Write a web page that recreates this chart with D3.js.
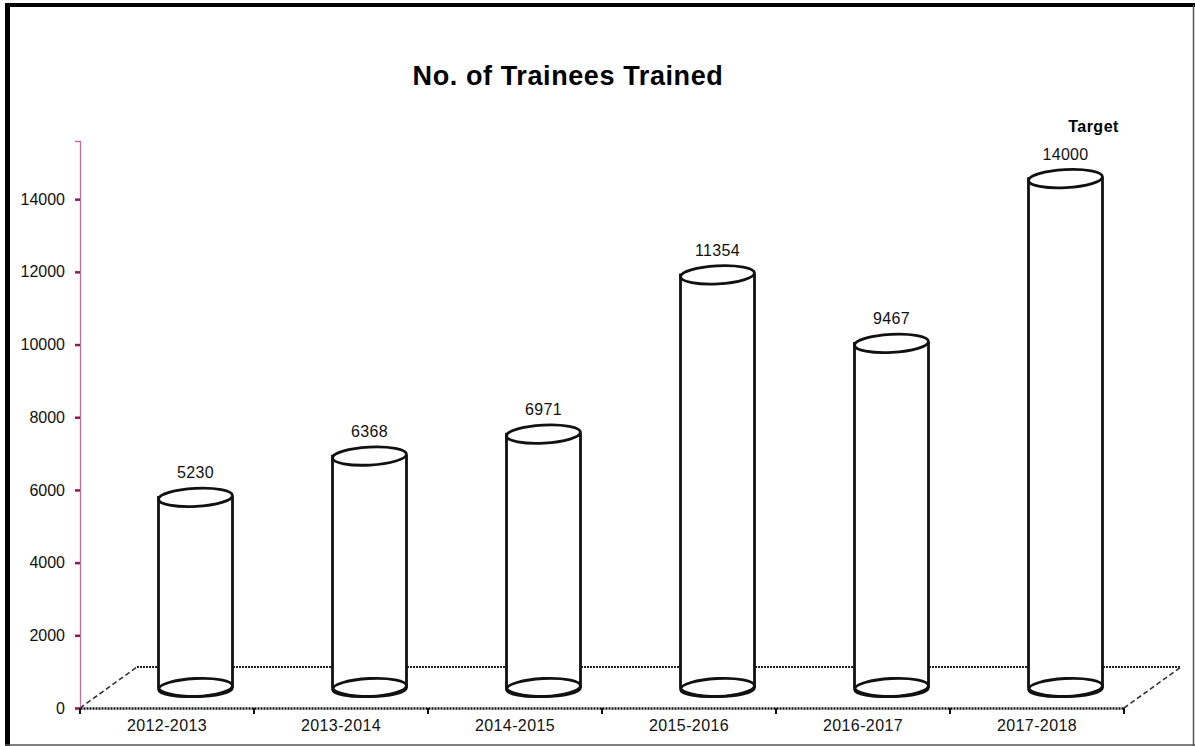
<!DOCTYPE html>
<html>
<head>
<meta charset="utf-8">
<script src="https://cdn.jsdelivr.net/npm/d3@7"></script>
<style>
  body { margin: 0; background: #fff; }
  svg { display: block; font-family: "Liberation Sans", Arial, sans-serif; }
</style>
</head>
<body>
<div id="chart"></div>
<script>
// Data.
var years = ["2012-2013", "2013-2014", "2014-2015", "2015-2016", "2016-2017", "2017-2018"];
var trainees = [5230, 6368, 6971, 11354, 9467, 14000];
var yTicks = [0, 2000, 4000, 6000, 8000, 10000, 12000, 14000];

var width = 1195;
var height = 746;

// 3D floor depth offsets (back edge vs front edge).
var depthX = 57, depthY = -41;
var rx = 37, ry = 9;

var svg = d3.select("#chart")
    .append("svg")
    .attr("width", width)
    .attr("height", height);

// Frame: thick left/top, thin right/bottom.
svg.append("rect").attr("x", 0).attr("y", 0).attr("width", width).attr("height", height).attr("fill", "#fff");
svg.append("line").attr("x1", 7.5).attr("x2", 7.5).attr("y1", 3).attr("y2", height).attr("stroke", "#000").attr("stroke-width", 5);
svg.append("line").attr("x1", 5).attr("x2", width).attr("y1", 5).attr("y2", 5).attr("stroke", "#000").attr("stroke-width", 4);
svg.append("line").attr("x1", width - 1.5).attr("x2", width - 1.5).attr("y1", 5).attr("y2", height).attr("stroke", "#555").attr("stroke-width", 1.5);
svg.append("line").attr("x1", 5).attr("x2", width).attr("y1", height - 1).attr("y2", height - 1).attr("stroke", "#555").attr("stroke-width", 1.5);

// Scales.
var x = d3.scaleBand()
    .domain(years)
    .range([80, 1124])
    .padding(0);

var y = d3.scaleLinear()
    .domain([0, 15600])
    .range([708, 141]);

// Title.
svg.append("text")
    .attr("x", 568)
    .attr("y", 85)
    .attr("text-anchor", "middle")
    .attr("font-size", 27)
    .attr("font-weight", "bold")
    .attr("letter-spacing", 0.6)
    .text("No. of Trainees Trained");

// Floor (parallelogram).
var x0 = x.range()[0], x1 = x.range()[1], y0 = y(0);
var floor = svg.append("g").attr("class", "floor");
floor.append("line")
    .attr("x1", x0 + depthX).attr("x2", x1 + depthX)
    .attr("y1", y0 + depthY).attr("y2", y0 + depthY)
    .attr("stroke", "#222").attr("stroke-width", 2.2)
    .attr("stroke-dasharray", "2,1");
floor.append("line")
    .attr("x1", x0).attr("x2", x0 + depthX)
    .attr("y1", y0).attr("y2", y0 + depthY)
    .attr("stroke", "#333").attr("stroke-width", 1.6)
    .attr("stroke-dasharray", "5,3");
floor.append("line")
    .attr("x1", x1).attr("x2", x1 + depthX)
    .attr("y1", y0).attr("y2", y0 + depthY)
    .attr("stroke", "#333").attr("stroke-width", 1.6)
    .attr("stroke-dasharray", "5,3");

// Y axis.
var yAxis = d3.axisLeft(y)
    .tickValues(yTicks)
    .tickSize(5)
    .tickPadding(10)
    .tickFormat(d3.format("d"));

var yAxisG = svg.append("g")
    .attr("transform", "translate(80,0)")
    .call(yAxis);
yAxisG.select(".domain").attr("stroke", "#c0709a").attr("stroke-width", 1.3);
yAxisG.selectAll(".tick line").attr("stroke", "#8b1a55").attr("stroke-width", 2.5);
yAxisG.selectAll(".tick text")
    .attr("font-size", 16)
    .attr("fill", "#111")
    .style("font-family", "'Liberation Sans', Arial, sans-serif");

// X axis.
var xAxis = d3.axisBottom(x)
    .tickSize(0)
    .tickPadding(12);
var xAxisG = svg.append("g")
    .attr("transform", "translate(0," + y0 + ")")
    .call(xAxis);
xAxisG.select(".domain").attr("stroke", "#111").attr("stroke-width", 2.6).attr("stroke-dasharray", "2,1");
xAxisG.selectAll(".tick text")
    .attr("font-size", 16)
    .attr("letter-spacing", 0.4)
    .attr("fill", "#111")
    .style("font-family", "'Liberation Sans', Arial, sans-serif");
// Category boundary ticks.
var bounds = years.map(d => x(d)).concat([x1]);
xAxisG.selectAll(".bound")
    .data(bounds)
    .enter()
    .append("line")
    .attr("class", "bound")
    .attr("x1", d => d).attr("x2", d => d)
    .attr("y1", 0).attr("y2", 6)
    .attr("stroke", "#111").attr("stroke-width", 2);

// Cylinders.
var cylDx = depthX / 2, cylDy = depthY / 2;
var cyl = svg.append("g").attr("class", "cylinders")
    .selectAll("g")
    .data(trainees)
    .enter()
    .append("g");

function cx(d, i) { return x(years[i]) + x.bandwidth() / 2 + cylDx; }
function topY(d) { return y(d) + cylDy; }
var baseY = y(0) + cylDy;

// body
cyl.append("path")
    .attr("d", (d, i) => {
        var c = cx(d, i), t = topY(d);
        return "M" + (c - rx) + "," + t + "L" + (c - rx) + "," + baseY +
               "A" + rx + "," + ry + " 0 0 0 " + (c + rx) + "," + baseY +
               "L" + (c + rx) + "," + t + "Z";
    })
    .attr("fill", "#fff")
    .attr("stroke", "#111")
    .attr("stroke-width", 2.8);

// bottom ellipse (back half visible too)
cyl.append("ellipse")
    .attr("cx", (d, i) => cx(d, i))
    .attr("cy", baseY)
    .attr("rx", rx).attr("ry", ry)
    .attr("transform", (d, i) => "rotate(-3," + cx(d, i) + "," + baseY + ")")
    .attr("fill", "none")
    .attr("stroke", "#111")
    .attr("stroke-width", 2.8);

// top ellipse
cyl.append("ellipse")
    .attr("cx", (d, i) => cx(d, i))
    .attr("cy", d => topY(d))
    .attr("rx", rx).attr("ry", ry)
    .attr("transform", (d, i) => "rotate(-3," + cx(d, i) + "," + topY(d) + ")")
    .attr("fill", "#fff")
    .attr("stroke", "#111")
    .attr("stroke-width", 2.8);

// value labels
cyl.append("text")
    .attr("x", (d, i) => cx(d, i))
    .attr("y", d => topY(d) - 19)
    .attr("text-anchor", "middle")
    .attr("font-size", 16)
    .attr("letter-spacing", 0.3)
    .attr("fill", "#111")
    .text(d => d);

// "Target" note above last bar.
var last = trainees.length - 1;
svg.append("text")
    .attr("x", cx(trainees[last], last) + 28)
    .attr("y", topY(trainees[last]) - 47)
    .attr("text-anchor", "middle")
    .attr("font-size", 16)
    .attr("font-weight", "bold")
    .attr("letter-spacing", 0.5)
    .text("Target");
</script>
</body>
</html>
